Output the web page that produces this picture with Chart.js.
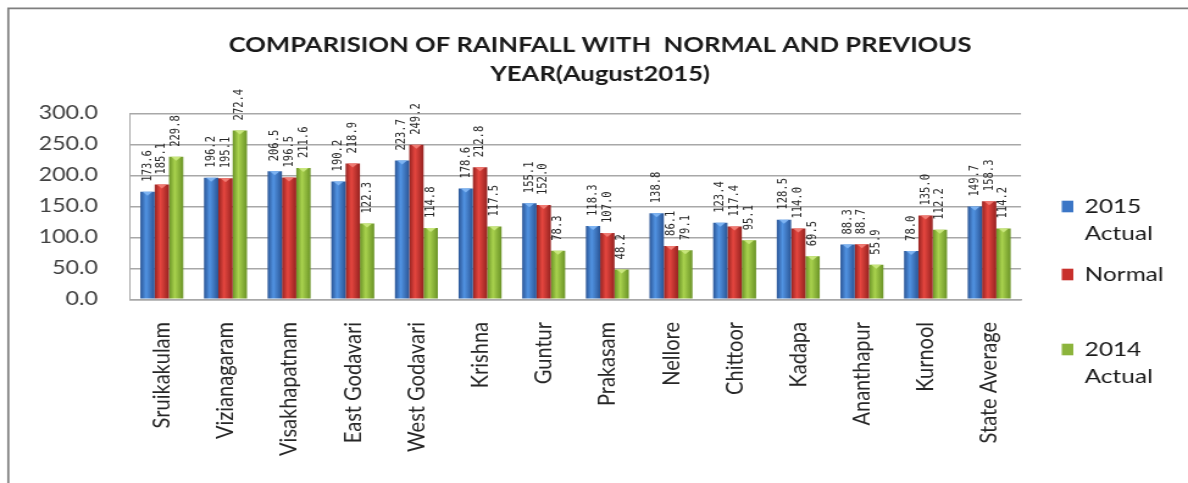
<!DOCTYPE html>
<html>
<head>
<meta charset="utf-8">
<script src="https://cdn.jsdelivr.net/npm/chart.js@4.4.0/dist/chart.umd.min.js"></script>
<style>
  html, body { margin: 0; padding: 0; background: #fff; overflow: hidden; }
  /* the original picture is stretched sideways, so the chart is drawn narrower and scaled */
  #wrap { position: relative; width: 974px; height: 483px; transform: scaleX(1.2197); transform-origin: 0 0; }
</style>
</head>
<body>
<div id="wrap"><canvas id="rainChart"></canvas></div>
<script>
const districts = ['Sruikakulam', 'Vizianagaram', 'Visakhapatnam', 'East Godavari', 'West Godavari',
  'Krishna', 'Guntur', 'Prakasam', 'Nellore', 'Chittoor', 'Kadapa', 'Ananthapur', 'Kurnool', 'State Average'];
const actual2015 = [173.6, 196.2, 206.5, 190.2, 223.7, 178.6, 155.1, 118.3, 138.8, 123.4, 128.5, 88.3, 78.0, 149.7];
const normalRain = [185.1, 195.1, 196.5, 218.9, 249.2, 212.8, 152.0, 107.0, 86.1, 117.4, 114.0, 88.7, 135.0, 158.3];
const actual2014 = [229.8, 272.4, 211.6, 122.3, 114.8, 117.5, 78.3, 48.2, 79.1, 95.1, 69.5, 55.9, 112.2, 114.2];
const seriesNames = [['2015', 'Actual'], ['Normal'], ['2014', 'Actual']];
const titleLines = ['COMPARISION OF RAINFALL WITH  NORMAL AND PREVIOUS', 'YEAR(August2015)'];

const shades = [
  { dark: '#2a5596', light: '#5193e2', mid: '#3b76c6', cap: '#7db3f2' },
  { dark: '#962220', light: '#e5463f', mid: '#c8302c', cap: '#f07a72' },
  { dark: '#6a9326', light: '#a9d24e', mid: '#8cb43c', cap: '#c8e67c' }
];
const catPct = 0.675;

function barFill(i) {
  return (context) => {
    const chart = context.chart;
    const { chartArea, scales } = chart;
    if (!chartArea || context.type !== 'data') return shades[i].mid;
    const bw = scales.x.width / districts.length * catPct / 3;
    const cx = scales.x.getPixelForValue(context.dataIndex) + (i - 1) * bw;
    const g = chart.ctx.createLinearGradient(cx - bw / 2, 0, cx + bw / 2, 0);
    g.addColorStop(0, shades[i].dark);
    g.addColorStop(0.4, shades[i].light);
    g.addColorStop(1, shades[i].dark);
    return g;
  };
}

// grey frame on the top and left edge, plus the two-line title centred on the page
const frame = {
  id: 'frame',
  beforeDraw(chart) {
    const ctx = chart.ctx;
    ctx.save();
    ctx.strokeStyle = '#7f7f7f';
    ctx.lineWidth = 1.7;
    ctx.beginPath();
    ctx.moveTo(6.8, chart.height);
    ctx.lineTo(6.8, 8.3);
    ctx.lineTo(chart.width, 8.3);
    ctx.stroke();

    ctx.font = 'bold 21px Lato';
    ctx.fillStyle = '#1a1a1a';
    ctx.textAlign = 'center';
    ctx.textBaseline = 'middle';
    ctx.fillText(titleLines[0], 492, 45);
    ctx.fillText(titleLines[1], 492, 74);
    ctx.restore();
  }
};

// bar caps + rotated value labels
const valueLabels = {
  id: 'valueLabels',
  afterDatasetsDraw(chart) {
    const ctx = chart.ctx;
    ctx.save();
    chart.data.datasets.forEach((ds, i) => {
      const meta = chart.getDatasetMeta(i);
      meta.data.forEach((bar, j) => {
        const half = bar.width / 2;
        ctx.fillStyle = shades[i].cap;
        ctx.beginPath();
        ctx.moveTo(bar.x - half * 0.7, bar.y);
        ctx.lineTo(bar.x + half * 0.7, bar.y);
        ctx.lineTo(bar.x, bar.y + 4);
        ctx.closePath();
        ctx.fill();

        ctx.save();
        ctx.translate(bar.x, bar.y - 10);
        ctx.rotate(-Math.PI / 2);
        ctx.font = '10.5px "DejaVu Sans Mono"';
        ctx.fillStyle = '#262626';
        ctx.textAlign = 'left';
        ctx.textBaseline = 'middle';
        ctx.fillText(ds.data[j].toFixed(1), 0, 0);
        ctx.restore();
      });
    });
    ctx.restore();
  }
};

const sideLegend = {
  id: 'sideLegend',
  afterDraw(chart) {
    const ctx = chart.ctx;
    const baselines = [213, 281, 356];
    ctx.save();
    ctx.font = '20px Lato';
    ctx.textBaseline = 'alphabetic';
    seriesNames.forEach((lines, i) => {
      const base = baselines[i];
      ctx.fillStyle = shades[i].mid;
      ctx.fillRect(870.5, base - 12.3, 9.5, 11.6);
      ctx.fillStyle = '#1a1a1a';
      lines.forEach((txt, k) => ctx.fillText(txt, 889.3, base + k * 27));
    });
    ctx.restore();
  }
};

new Chart(document.getElementById('rainChart'), {
  type: 'bar',
  data: {
    labels: districts,
    datasets: [
      { label: '2015 Actual', data: actual2015, backgroundColor: barFill(0) },
      { label: 'Normal', data: normalRain, backgroundColor: barFill(1) },
      { label: '2014 Actual', data: actual2014, backgroundColor: barFill(2) }
    ]
  },
  options: {
    responsive: true,
    maintainAspectRatio: false,
    animation: false,
    datasets: { bar: { categoryPercentage: catPct, barPercentage: 1.0, borderWidth: 0 } },
    layout: { padding: { left: 0, right: 136.9, top: 113.3, bottom: 0 } },
    scales: {
      x: {
        grid: { display: false, drawTicks: false },
        border: { display: true, color: '#a8a8a8', width: 1.5 },
        ticks: {
          autoSkip: false, maxRotation: 90, minRotation: 90, padding: 22.7,
          color: '#262626', font: { family: 'Lato', size: 20 }
        },
        afterFit: (axis) => { axis.height = 183.7; }
      },
      y: {
        min: 0, max: 300,
        grid: { color: '#a8a8a8', lineWidth: 1.5, drawTicks: false },
        border: { display: true, color: '#a8a8a8', width: 1 },
        ticks: {
          stepSize: 50, padding: 26.3,
          color: '#404040', font: { family: 'Lato', size: 19 },
          callback: (v) => Number(v).toFixed(1)
        },
        afterFit: (axis) => { axis.width = 106.6; }
      }
    },
    plugins: {
      legend: { display: false },
      tooltip: { enabled: false },
      title: { display: false }
    }
  },
  plugins: [frame, valueLabels, sideLegend]
});
</script>
</body>
</html>
